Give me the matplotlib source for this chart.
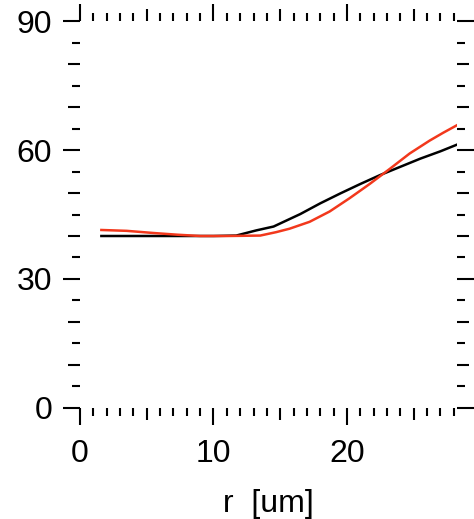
"""Profil radial: dua kurva (hitam vs merah) terhadap r [um]."""
import matplotlib

matplotlib.use("Agg")
import matplotlib.pyplot as plt
from matplotlib.ticker import FixedLocator, MultipleLocator

# data
r_black = [1.6, 4.0, 6.0, 8.0, 10.0, 11.7, 13.2, 14.5, 16.5, 18.0, 19.5, 21.0,
           22.5, 24.0, 25.5, 27.0, 28.2]
v_black = [40.0, 40.0, 40.0, 40.0, 40.0, 40.1, 41.3, 42.2, 45.1, 47.6, 49.9, 52.1,
           54.2, 56.1, 58.0, 59.7, 61.2]
r_red = [1.6, 3.5, 5.5, 7.3, 9.0, 11.0, 13.5, 14.7, 15.7, 17.2, 18.7, 20.2, 21.7,
         23.2, 24.7, 26.2, 27.2, 28.2]
v_red = [41.4, 41.2, 40.7, 40.3, 40.0, 40.0, 40.1, 40.9, 41.7, 43.3, 45.7, 48.8, 52.1,
         55.6, 59.2, 62.2, 64.0, 65.7]

x_labels = [0, 10, 20]
y_labels = [0, 30, 60, 90]

plt.rcParams["font.family"] = ["Liberation Sans", "DejaVu Sans"]

fig = plt.figure(figsize=(4.74, 5.19), dpi=100)
ax = fig.add_axes([0.1688, 0.2139, 0.9641 - 0.1688, 0.9595 - 0.2139])

ax.plot(r_black, v_black, color="black", lw=1.8)
ax.plot(r_red, v_red, color="#f2381c", lw=1.8)

ax.set_xlim(0, 28.24)
ax.set_ylim(0, 90)
for s in ax.spines.values():
    s.set_visible(False)

ax.xaxis.set_major_locator(FixedLocator(x_labels))
ax.xaxis.set_minor_locator(MultipleLocator(1))
ax.yaxis.set_major_locator(FixedLocator(y_labels))
ax.yaxis.set_minor_locator(MultipleLocator(5))

ax.tick_params(which="both", direction="out", width=1.5, labelsize=23,
               top=True, right=True, color="black")
ax.tick_params(which="major", length=12)
ax.tick_params(axis="x", which="major", pad=10)
ax.tick_params(axis="y", which="major", pad=8)

ax.set_xlabel("r  [um]", fontsize=23, labelpad=15)

# tiga tingkat panjang tick (gaya IDL): minor pendek, tiap 5/10 sedang
fig.canvas.draw()
for locs, ticks, step in ((ax.xaxis.get_minorticklocs(), ax.xaxis.get_minor_ticks(), 5),
                          (ax.yaxis.get_minorticklocs(), ax.yaxis.get_minor_ticks(), 10)):
    for loc, t in zip(locs, ticks):
        L = 8.5 if abs(loc / step - round(loc / step)) < 1e-6 else 5.5
        t.tick1line.set_markersize(L)
        t.tick2line.set_markersize(L)

fig.savefig("out.png", dpi=100)
